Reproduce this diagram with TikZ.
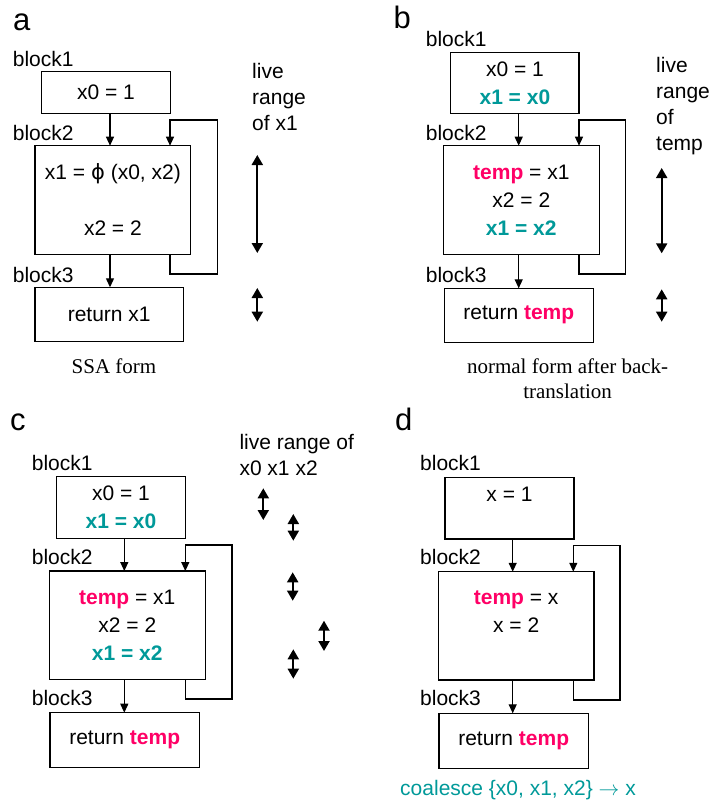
\documentclass[tikz,border=0pt]{standalone}
\usepackage{fontspec}
\setmainfont{Liberation Sans}
\newfontfamily\captionfont{Liberation Serif}
\newfontfamily\phifont{DejaVu Sans}
\usetikzlibrary{arrows.meta}

\definecolor{tempred}{HTML}{FF0066}
\definecolor{copyteal}{HTML}{009999}
\newcommand{\tempvar}{{\color{tempred}\bfseries temp}}
\newcommand{\copystmt}[1]{{\color{copyteal}\bfseries #1}}

\tikzstyle{block_box} = [
    draw=black,
    line width=1.2pt,
    inner sep=0pt,
    outer sep=0pt,
    align=center,
    font=\fontsize{21}{28}\selectfont
]
\tikzstyle{block_label} = [
    anchor=base west,
    inner sep=0pt,
    font=\fontsize{21}{26}\selectfont
]
\tikzstyle{range_text} = [
    anchor=base west, % base of the last line
    inner sep=0pt,
    align=left,
    font=\fontsize{21}{26}\selectfont
]
\tikzstyle{panel_letter} = [
    anchor=base west,
    inner sep=0pt,
    font=\fontsize{31}{31}\selectfont
]
\tikzstyle{caption_text} = [
    anchor=base,
    inner sep=0pt,
    align=center,
    font=\captionfont\fontsize{21}{25}\selectfont
]
\tikzstyle{flow} = [
    line width=1.2pt,
    -{Triangle[length=9pt, width=8pt]}
]
\tikzstyle{live} = [
    line width=2pt,
    {Triangle[length=10pt, width=11pt]}-{Triangle[length=10pt, width=11pt]}
]

\begin{document}
\begin{tikzpicture}[x=1pt, y=-1pt]
\useasboundingbox (0,0) rectangle (710,801);

% a: SSA form
\node [panel_letter] (la) at (13,30) {a};
\node [block_label] at (12.7,66) {block1};
\node [block_label] at (12.7,140) {block2};
\node [block_label] at (12.7,282) {block3};
\node [block_box, minimum width=128.6pt, minimum height=41.6pt] (a1) at (106,92.5) {x0 = 1};
\node [block_box, minimum width=155.7pt, minimum height=108.6pt] (a2) at (112.9,200)
    {x1 = {\phifont ϕ} (x0, x2)\\[28pt] x2 = 2};
\node [block_box, minimum width=148.3pt, minimum height=54.4pt] (a3) at (109.2,314.5) {return x1};
\coordinate (ax) at (110,0);
\coordinate (aL1) at (170,274);
\coordinate (aL2) at (217.3,120);
\draw [flow] (a1.south -| ax) -- (a2.north -| ax);
\draw [flow] (a2.south -| ax) -- (a3.north -| ax);
\draw [flow] (a2.south -| aL1) -- (aL1) -| (aL2) -| (a2.north -| aL1);
\node [range_text] at (252,130) {live\\range\\of x1};
\draw [live] (257.3,155) -- (257.3,253);
\draw [live] (257.3,288) -- (257.3,321.7);
\node [caption_text] at (114,373) {SSA form};

% b: after back-translation
\node [panel_letter] (lb) at (393.3,28.3) {b};
\node [block_label] at (425.7,46) {block1};
\node [block_label] at (425.7,140) {block2};
\node [block_label] at (425.7,282) {block3};
\node [block_box, minimum width=128.3pt, minimum height=61pt] (b1) at (514.9,82.8)
    {x0 = 1\\ \copystmt{x1 = x0}};
\node [block_box, minimum width=156pt, minimum height=108.6pt] (b2) at (521.3,200)
    {\tempvar{} = x1\\ x2 = 2\\ \copystmt{x1 = x2}};
\node [block_box, minimum width=149pt, minimum height=54pt] (b3) at (518.8,315.3) {return \tempvar};
\coordinate (bx) at (518.7,0);
\coordinate (bL1) at (579,274);
\coordinate (bL2) at (625.7,120);
\draw [flow] (b1.south -| bx) -- (b2.north -| bx);
\draw [flow] (b2.south -| bx) -- (b3.north -| bx);
\draw [flow] (b2.south -| bL1) -- (bL1) -| (bL2) -| (b2.north -| bL1);
\node [range_text] at (656,150.7) {live\\range\\of\\temp};
\draw [live] (661.7,168) -- (661.7,253.3);
\draw [live] (661.7,289.3) -- (661.7,321.7);
\node [caption_text] at (567.6,398) {normal form after back-\\translation};

% c: live ranges of the copies
\node [panel_letter] (lc) at (10,430) {c};
\node [block_label] at (31.7,470.7) {block1};
\node [block_label] at (31.7,564) {block2};
\node [block_label] at (31.7,705.7) {block3};
\node [block_box, minimum width=128.6pt, minimum height=61.6pt] (c1) at (121,507.5)
    {x0 = 1\\ \copystmt{x1 = x0}};
\node [block_box, minimum width=156pt, minimum height=108.3pt] (c2) at (127.3,625.2)
    {\tempvar{} = x1\\ x2 = 2\\ \copystmt{x1 = x2}};
\node [block_box, minimum width=149.3pt, minimum height=55pt] (c3) at (124.7,740.2) {return \tempvar};
\coordinate (cx) at (124.3,0);
\coordinate (cL1) at (185.3,699);
\coordinate (cL2) at (232,545);
\draw [flow] (c1.south -| cx) -- (c2.north -| cx);
\draw [flow] (c2.south -| cx) -- (c3.north -| cx);
\draw [flow] (c2.south -| cL1) -- (cL1) -| (cL2) -| (c2.north -| cL1);
\node [range_text] at (239.3,475) {live range of\\x0 x1 x2};
\foreach \x/\ya/\yb in {263.3/488.3/520, 293.3/514/540.7, 292.7/572.3/600.7,
                        324/620.7/651, 293.3/649.3/678.7}
    \draw [live] (\x,\ya) -- (\x,\yb);

% d: coalesced
\node [panel_letter] (ld) at (395,430) {d};
\node [block_label] at (420,470.7) {block1};
\node [block_label] at (420,564) {block2};
\node [block_label] at (420,705.7) {block3};
\node [block_box, minimum width=129pt, minimum height=61.7pt] (d1) at (509.5,508.2)
    {x = 1\\ \mbox{}};
\node [block_box, minimum width=155.7pt, minimum height=108.3pt] (d2) at (516.2,625.9)
    {\tempvar{} = x\\ x = 2\\ \mbox{}};
\node [block_box, minimum width=149.3pt, minimum height=55pt] (d3) at (513.7,740.8) {return \tempvar};
\coordinate (dx) at (512.7,0);
\coordinate (dL1) at (573.3,700);
\coordinate (dL2) at (620,545.7);
\draw [flow] (d1.south -| dx) -- (d2.north -| dx);
\draw [flow] (d2.south -| dx) -- (d3.north -| dx);
\draw [flow] (d2.south -| dL1) -- (dL1) -| (dL2) -| (d2.north -| dL1);
\node [anchor=base, inner sep=0pt, text=copyteal, font=\fontsize{21}{26}\selectfont]
    at (518,795) {coalesce \{x0, x1, x2\} $\rightarrow$ x};
\end{tikzpicture}
\end{document}
